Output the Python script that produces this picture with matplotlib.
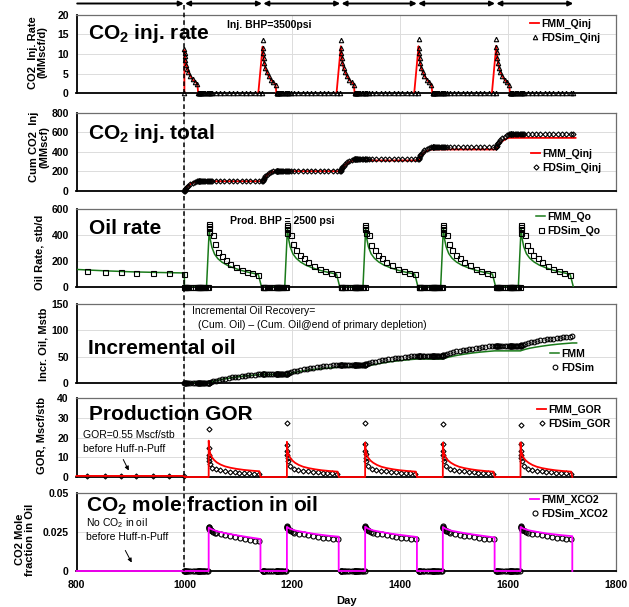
import matplotlib
matplotlib.use("Agg")
import matplotlib.pyplot as plt
from matplotlib.transforms import blended_transform_factory

plt.rcParams['font.family'] = ['Liberation Sans', 'DejaVu Sans']
plt.rcParams['mathtext.fontset'] = 'custom'
plt.rcParams['mathtext.rm'] = 'Liberation Sans'
plt.rcParams['mathtext.bf'] = 'Liberation Sans:bold'
plt.rcParams['mathtext.it'] = 'Liberation Sans:italic'

# ---------------- data ----------------
CYCLE_START = [1000, 1145, 1290, 1434, 1578]          # injection start of each huff-n-puff cycle
ARROW_DAYS = [800, 1000, 1145, 1290, 1432, 1577, 1722]  # period arrows on top

# Panel 1: CO2 injection rate (MMscf/d)
FD_INJ_T = [0, 0.3, 1, 2, 3, 5, 7.5, 11, 15.5, 20, 24]
FD_INJ_Q = [
    [11.2, 10.3, 9.4, 8.4, 7.3, 6.2, 5.3, 4.4, 3.5, 2.9, 2.4],
    [13.6, 11.5, 10.2, 8.9, 7.6, 6.3, 5.5, 4.4, 3.4, 2.7, 2.1],
    [13.7, 11.6, 10.3, 9.0, 7.7, 6.4, 5.5, 4.4, 3.4, 2.7, 2.1],
    [13.8, 11.6, 10.3, 9.0, 7.7, 6.4, 5.5, 4.4, 3.4, 2.7, 2.1],
    [13.8, 11.7, 10.4, 9.1, 7.7, 6.4, 5.5, 4.4, 3.4, 2.7, 2.1]]
FD_NOINJ_T = [26, 26.5, 27, 27.5, 28, 29, 30.5, 32, 34, 36, 38.5, 41, 44, 45.5, 47, 49, 52,
              58, 66, 74, 82, 90, 98, 106, 114, 122, 130, 138, 143]
FMM_INJ_T = [0, 1, 2, 3, 5, 7.5, 11, 15.5, 20, 24, 25.5]
FMM_INJ_Q = [
    [11.0, 9.6, 8.7, 7.7, 6.5, 5.4, 4.4, 3.4, 2.8, 2.4, 0],
    [11.9, 10.2, 9.0, 7.8, 6.4, 5.5, 4.4, 3.4, 2.7, 2.2, 0],
    [12.0, 10.3, 9.0, 7.8, 6.4, 5.5, 4.4, 3.4, 2.7, 2.2, 0],
    [12.0, 10.3, 9.0, 7.8, 6.4, 5.5, 4.4, 3.4, 2.7, 2.2, 0],
    [12.1, 10.3, 9.1, 7.9, 6.5, 5.5, 4.4, 3.4, 2.7, 2.2, 0]]
FMM_INJ_RAMP = [0, -8, -8, -8, -8]

# Panel 2: cumulative CO2 injected (MMscf)
FD_CUM = [
    [0, 3, 10, 19, 27, 41, 55, 71, 86, 97, 104],
    [104, 108, 116, 126, 135, 150, 165, 180, 194, 203, 208],
    [208, 212, 221, 233, 243, 260, 277, 294, 309, 322, 330],
    [330, 334, 343, 355, 365, 382, 399, 416, 431, 444, 451],
    [451, 455, 464, 477, 488, 506, 524, 542, 558, 572, 581]]
FD_CUM_FLAT = [104, 208, 330, 451, 581]
FMM_CUM = [
    [0, 10, 19, 27, 41, 55, 71, 85, 95, 100, 100],
    [100, 111, 121, 130, 144, 160, 177, 191, 199, 203, 203],
    [203, 214, 225, 234, 249, 266, 284, 299, 308, 313, 313],
    [313, 324, 336, 345, 361, 378, 396, 411, 421, 426, 426],
    [426, 437, 449, 458, 474, 491, 510, 526, 539, 545, 545]]
FMM_CUM_END_DAY = 1725

# Panel 3: oil rate (stb/d)
FMM_PRIM_T = [800, 850, 900, 950, 1000]
FMM_PRIM_Q = [135, 125, 117, 112, 108]
FD_PRIM_T = [820, 852, 882, 911, 941, 971, 1000]
FD_PRIM_Q = [121, 116, 113, 110, 107, 104, 101]
FD_SHUT_T = [0, 0.5, 1, 2, 3, 5, 7.5, 11, 15.5, 20, 24, 25.5, 26, 26.5, 27, 28, 29, 30.5,
             32, 34, 36, 38.5, 41, 44]
FD_PROD_T = [45, 45.3, 45.6, 46, 53, 56.5, 62.5, 69, 77, 84, 95.5, 106, 116.5, 126, 137]
FD_OIL = [
    [485, 466, 454, 425, 400, 330, 272, 236, 206, 180, 153, 134, 117, 106, 96],
    [480, 462, 450, 418, 402, 328, 284, 248, 220, 195, 165, 141, 121, 108, 97],
    [478, 460, 448, 415, 400, 326, 285, 248, 221, 196, 166, 142, 122, 109, 97],
    [478, 461, 447, 416, 401, 327, 285, 249, 221, 196, 166, 142, 122, 109, 97],
    [476, 458, 446, 414, 398, 325, 284, 247, 220, 195, 165, 141, 121, 108, 96]]
FMM_OIL_T = [41, 46, 48, 51, 56, 62, 70, 80, 92, 105, 120, 137, 143]
FMM_OIL = [
    [0, 440, 365, 305, 252, 218, 190, 166, 146, 128, 112, 97, 0],
    [0, 452, 372, 310, 256, 222, 193, 168, 148, 130, 114, 99, 0],
    [0, 452, 372, 310, 256, 222, 193, 168, 148, 130, 114, 99, 0],
    [0, 453, 373, 311, 257, 222, 193, 168, 148, 130, 114, 99, 0],
    [0, 452, 372, 310, 256, 222, 193, 168, 148, 130, 114, 98, 0]]

# Panel 4: incremental oil (Mstb)
FD_INC_SHUT = [0, 17.6, 35.0, 52.0, 71.0]
FD_INC_PROD_T = [45, 45.3, 45.6, 46, 49, 53, 58, 64, 70, 76, 82, 88, 94, 100, 106, 112, 118,
                 124, 130, 136, 141]
FD_INC = [
    [0, 0.14, 0.28, 0.46, 1.7, 3.1, 4.6, 6.0, 7.3, 8.5, 9.5, 10.5, 11.4, 12.3, 13.1, 13.9, 14.7,
     15.4, 16.1, 16.8, 17.4],
    [17.6, 17.7, 17.9, 18.1, 19.3, 20.7, 22.1, 23.5, 24.8, 26.0, 27.0, 28.0, 28.9, 29.8, 30.6,
     31.4, 32.1, 32.8, 33.5, 34.2, 34.8],
    [35.0, 35.1, 35.3, 35.4, 36.6, 38.0, 39.4, 40.8, 42.1, 43.2, 44.2, 45.2, 46.0, 46.9, 47.7,
     48.4, 49.2, 49.9, 50.6, 51.2, 51.8],
    [52.0, 52.2, 52.3, 52.5, 53.8, 55.3, 57.0, 58.5, 59.9, 61.2, 62.3, 63.3, 64.3, 65.3, 66.1,
     67.0, 67.9, 68.6, 69.4, 70.1, 70.8],
    [71.0, 71.1, 71.3, 71.5, 72.8, 74.2, 75.7, 77.1, 78.5, 79.7, 80.7, 81.8, 82.7, 83.6, 84.4,
     85.2, 86.0, 86.8, 87.5, 88.2, 88.8]]
FMM_INC_T = [45, 47, 50, 55, 62, 72, 85, 100, 115, 130, 141]
FMM_INC = [
    [0, 0.8, 1.9, 3.5, 5.3, 7.4, 9.6, 11.8, 13.6, 15.0, 16.0],
    [16.0, 16.7, 17.7, 19.1, 20.6, 22.4, 24.4, 26.4, 27.9, 29.2, 30.0],
    [30.0, 30.8, 31.9, 33.4, 35.1, 37.1, 39.3, 41.5, 43.2, 44.6, 45.5],
    [45.5, 46.3, 47.4, 48.9, 50.6, 52.6, 54.8, 57.0, 58.7, 60.1, 61.0],
    [61.0, 61.8, 62.8, 64.3, 66.0, 67.9, 70.0, 72.1, 73.8, 75.1, 76.0]]
FMM_INC_END_DAY = 1727

# Panel 5: producing GOR (Mscf/stb)
GOR_PRIMARY = 0.55
FD_GOR_PRIM = [0.55, 0.55, 0.55, 0.55, 0.55, 0.55, 0.55]
FD_GOR_T = [45, 45.3, 45.6, 46, 46.5, 47.5, 51, 58, 66, 75, 84, 93, 102, 111, 120, 129, 138]
FD_GOR = [
    [24.5, 14.5, 11.2, 9.6, 8.2, 6.6, 4.6, 3.8, 3.4, 3.0, 2.7, 2.4, 2.2, 2.0, 1.9, 1.7, 1.6],
    [27.3, 16.4, 13.0, 11.3, 9.6, 8.2, 5.6, 4.3, 3.6, 3.1, 2.8, 2.5, 2.3, 2.1, 1.9, 1.8, 1.6],
    [27.3, 16.8, 13.2, 11.4, 9.7, 8.2, 5.6, 4.3, 3.6, 3.1, 2.8, 2.5, 2.3, 2.1, 1.9, 1.8, 1.6],
    [26.8, 16.5, 13.0, 11.2, 9.6, 8.1, 5.5, 4.3, 3.6, 3.1, 2.8, 2.5, 2.3, 2.1, 1.9, 1.8, 1.6],
    [26.1, 16.6, 13.1, 11.3, 9.6, 8.1, 5.5, 4.3, 3.6, 3.1, 2.8, 2.5, 2.3, 2.1, 1.9, 1.8, 1.6]]
FMM_GOR_T = [45, 45.05, 46, 48, 51, 55, 60, 67, 75, 85, 97, 110, 125, 139, 141]
FMM_GOR = [
    [0, 18.4, 14.5, 11.8, 10.0, 8.6, 7.4, 6.3, 5.4, 4.7, 4.1, 3.6, 3.2, 2.9, 0],
    [0, 17.8, 13.9, 11.4, 9.7, 8.4, 7.2, 6.1, 5.2, 4.5, 3.9, 3.4, 3.0, 2.7, 0],
    [0, 17.4, 13.8, 11.3, 9.6, 8.3, 7.2, 6.1, 5.2, 4.5, 3.9, 3.4, 3.0, 2.7, 0],
    [0, 17.4, 13.8, 11.3, 9.6, 8.3, 7.2, 6.1, 5.2, 4.5, 3.9, 3.4, 3.0, 2.7, 0],
    [0, 17.5, 13.8, 11.3, 9.6, 8.3, 7.2, 6.1, 5.2, 4.5, 3.9, 3.4, 3.0, 2.7, 0]]

# Panel 6: CO2 mole fraction in oil
FD_X_T = [45, 45.3, 45.6, 46, 47, 48.5, 50.5, 53, 56, 59, 67, 76, 85, 94, 103, 112, 121, 130, 139]
FD_X = [
    [0.0285, 0.0280, 0.0275, 0.0270, 0.0265, 0.0260, 0.0255, 0.0250, 0.0246, 0.0243, 0.0236,
     0.0229, 0.0222, 0.0216, 0.0210, 0.0204, 0.0199, 0.0194, 0.0190],
    [0.0287, 0.0283, 0.0279, 0.0275, 0.0270, 0.0265, 0.0260, 0.0255, 0.0250, 0.0246, 0.0240,
     0.0234, 0.0228, 0.0223, 0.0218, 0.0213, 0.0209, 0.0206, 0.0203],
    [0.0287, 0.0283, 0.0279, 0.0275, 0.0270, 0.0265, 0.0260, 0.0255, 0.0250, 0.0246, 0.0240,
     0.0234, 0.0228, 0.0223, 0.0218, 0.0213, 0.0209, 0.0206, 0.0203],
    [0.0286, 0.0282, 0.0278, 0.0274, 0.0269, 0.0264, 0.0259, 0.0254, 0.0249, 0.0245, 0.0239,
     0.0233, 0.0227, 0.0222, 0.0217, 0.0212, 0.0208, 0.0205, 0.0202],
    [0.0287, 0.0283, 0.0279, 0.0275, 0.0270, 0.0265, 0.0260, 0.0255, 0.0250, 0.0246, 0.0240,
     0.0234, 0.0228, 0.0223, 0.0218, 0.0213, 0.0209, 0.0206, 0.0203]]
FMM_X_T = [45, 45.01, 50, 60, 75, 95, 120, 141, 141.01]
FMM_X = [
    [0, 0.0278, 0.0268, 0.0255, 0.0243, 0.0230, 0.0216, 0.0205, 0],
    [0, 0.0282, 0.0272, 0.0260, 0.0250, 0.0238, 0.0227, 0.0220, 0],
    [0, 0.0283, 0.0272, 0.0260, 0.0250, 0.0238, 0.0227, 0.0218, 0],
    [0, 0.0282, 0.0271, 0.0259, 0.0249, 0.0237, 0.0225, 0.0215, 0],
    [0, 0.0282, 0.0272, 0.0261, 0.0251, 0.0240, 0.0230, 0.0223, 0]]


# ---------------- helpers ----------------
def series(rel_t, vals_by_cycle):
    t, v = [], []
    for s, vals in zip(CYCLE_START, vals_by_cycle):
        t.extend(s + r for r in rel_t)
        v.extend(vals)
    return t, v


def const_series(rel_t, levels):
    t, v = [], []
    for s, lv in zip(CYCLE_START, levels):
        t.extend(s + r for r in rel_t)
        v.extend([lv] * len(rel_t))
    return t, v


W, H = 629, 607
fig = plt.figure(figsize=(W / 100, H / 100), dpi=100)


def fx(px):
    return px / W


def fy(py):
    return 1 - py / H


AX_L, AX_R = 76.5, 616
PANELS = [(15, 93), (113, 191), (209, 287), (304, 383), (398, 477), (493, 571)]
YLIMS = [(0, 20), (0, 800), (0, 600), (0, 150), (0, 40), (0, 0.05)]
YTICKS = [[0, 5, 10, 15, 20], [0, 200, 400, 600, 800], [0, 200, 400, 600],
          [0, 50, 100, 150], [0, 10, 20, 30, 40], [0, 0.025, 0.05]]
YTICKLABELS = [None, None, None, None, None, ['0', '0.025', '0.05']]

axes = []
for (top, bot), yl, yt, ytl in zip(PANELS, YLIMS, YTICKS, YTICKLABELS):
    ax = fig.add_axes([fx(AX_L), fy(bot), (AX_R - AX_L) / W, (bot - top) / H])
    ax.set_xlim(800, 1800)
    ax.set_ylim(*yl)
    ax.set_yticks(yt)
    if ytl is not None:
        ax.set_yticklabels(ytl)
    ax.set_xticks([800, 1000, 1200, 1400, 1600, 1800])
    ax.grid(True, color='#dcdcdc', lw=0.7)
    ax.set_axisbelow(True)
    ax.tick_params(axis='y', length=0, pad=5.5, labelsize=7.5)
    ax.tick_params(axis='x', length=0, pad=6.5, labelsize=7.5)
    for lab in ax.get_yticklabels() + ax.get_xticklabels():
        lab.set_fontweight('bold')
    for sp in ['left', 'bottom']:
        ax.spines[sp].set_color('black')
        ax.spines[sp].set_linewidth(1.3)
    for sp in ['top', 'right']:
        ax.spines[sp].set_color('#6e6e6e')
        ax.spines[sp].set_linewidth(0.9)
    axes.append(ax)

for ax in axes[:-1]:
    ax.set_xticklabels([])

MK = dict(linestyle='none', mfc='none', mec='black', mew=0.8)

# Panel 1
ax = axes[0]
for k, s in enumerate(CYCLE_START):
    t = [s + FMM_INJ_RAMP[k]] + [s + r for r in FMM_INJ_T]
    v = [0] + FMM_INJ_Q[k]
    ax.plot(t, v, color='red', lw=1.3, label='FMM_Qinj' if k == 0 else None, zorder=3)
t1, v1 = series(FD_INJ_T, FD_INJ_Q)
t2, v2 = const_series(FD_NOINJ_T, [0, 0, 0, 0, 0])
ax.plot([CYCLE_START[0]] + t1 + t2, [0] + v1 + v2, marker='^', ms=3.2, label='FDSim_Qinj',
        zorder=4, clip_on=False, **MK)

# Panel 2
ax = axes[1]
t, v = [], []
for s, vals in zip(CYCLE_START, FMM_CUM):
    t.extend(s + r for r in FMM_INJ_T)
    v.extend(vals)
t.append(FMM_CUM_END_DAY)
v.append(FMM_CUM[-1][-1])
ax.plot(t, v, color='red', lw=1.3, label='FMM_Qinj', zorder=3)
t1, v1 = series(FD_INJ_T, FD_CUM)
t2, v2 = const_series(FD_NOINJ_T, FD_CUM_FLAT)
ax.plot(t1 + t2, v1 + v2, marker='D', ms=2.6, label='FDSim_Qinj', zorder=4, clip_on=False, **MK)

# Panel 3
ax = axes[2]
t = list(FMM_PRIM_T) + [1000]
v = list(FMM_PRIM_Q) + [0]
for s, vals in zip(CYCLE_START, FMM_OIL):
    t.extend(s + r for r in FMM_OIL_T)
    v.extend(vals)
ax.plot(t, v, color='#1a7a1a', lw=1.1, label='FMM_Qo', zorder=3)
t1, v1 = const_series(FD_SHUT_T, [0, 0, 0, 0, 0])
t2, v2 = series(FD_PROD_T, FD_OIL)
ax.plot(FD_PRIM_T + t1 + t2, FD_PRIM_Q + v1 + v2, marker='s', ms=3.6, label='FDSim_Qo',
        zorder=4, clip_on=False, **MK)

# Panel 4
ax = axes[3]
t, v = [CYCLE_START[0]], [0]
for s, vals in zip(CYCLE_START, FMM_INC):
    t.extend(s + r for r in FMM_INC_T)
    v.extend(vals)
t.append(FMM_INC_END_DAY)
v.append(FMM_INC[-1][-1])
ax.plot(t, v, color='#1a7a1a', lw=1.1, label='FMM', zorder=3)
t1, v1 = const_series(FD_SHUT_T, FD_INC_SHUT)
t2, v2 = series(FD_INC_PROD_T, FD_INC)
ax.plot(t1 + t2, v1 + v2, marker='o', ms=3.4, label='FDSim', zorder=4, clip_on=False, **MK)

# Panel 5
ax = axes[4]
t = [800, 1000, 1000]
v = [GOR_PRIMARY, GOR_PRIMARY, 0]
for s, vals in zip(CYCLE_START, FMM_GOR):
    t.extend(s + r for r in FMM_GOR_T)
    v.extend(vals)
ax.plot(t, v, color='red', lw=1.3, label='FMM_GOR', zorder=5, clip_on=False)
t2, v2 = series(FD_GOR_T, FD_GOR)
ax.plot(FD_PRIM_T + t2, FD_GOR_PRIM + v2, marker='D', ms=2.6, label='FDSim_GOR', zorder=4,
        clip_on=False, **MK)

# Panel 6
ax = axes[5]
t, v = [800], [0]
for s, vals in zip(CYCLE_START, FMM_X):
    t.extend(s + r for r in FMM_X_T)
    v.extend(vals)
ax.plot(t, v, color='#ff00ff', lw=1.3, label='FMM_XCO2', zorder=5, clip_on=False)
t1, v1 = const_series(FD_SHUT_T, [0, 0, 0, 0, 0])
t2, v2 = series(FD_X_T, FD_X)
ax.plot(t1 + t2, v1 + v2, marker='o', ms=3.6, label='FDSim_XCO2', zorder=4, clip_on=False, **MK)

# x label
axes[-1].set_xlabel('Day', fontsize=8, fontweight='bold', labelpad=4)

# y labels (figure text, rotated)
YLABELS = ['CO2  Inj. Rate\n(MMscf/d)', 'Cum CO2  Inj\n(MMscf)', 'Oil Rate, stb/d',
           'Incr. Oil, Mstb', 'GOR, Mscf/stb', 'CO2 Mole\nfraction in Oil']
YLAB_POS = [(37.5, 52.5), (39.5, 147), (39, 252), (44, 344.5), (41, 436), (25, 539.5)]
for lab, (px, py) in zip(YLABELS, YLAB_POS):
    fig.text(fx(px), fy(py), lab, rotation=90, ha='center', va='center', rotation_mode='anchor',
             fontsize=8, fontweight='bold', linespacing=1.0)

# panel titles
TITLES = [r'CO$_\mathbf{2}$ inj. rate', r'CO$_\mathbf{2}$ inj. total', 'Oil rate',
          'Incremental oil', 'Production GOR', r'CO$_\mathbf{2}$ mole fraction in oil']
TITLE_POS = [(88, 39), (88, 139), (89, 234), (88, 354), (89, 420), (86, 512)]
for ttl, (px, py) in zip(TITLES, TITLE_POS):
    fig.text(fx(px), fy(py), ttl, ha='left', va='baseline', fontsize=15, fontweight='bold',
             zorder=10)

# annotations
fig.text(fx(227), fy(28), 'Inj. BHP=3500psi', fontsize=7.5, fontweight='bold', va='baseline')
fig.text(fx(230), fy(224.5), 'Prod. BHP = 2500 psi', fontsize=7.5, fontweight='bold',
         va='baseline')
fig.text(fx(192), fy(314.5), 'Incremental Oil Recovery=', fontsize=7.5, va='baseline')
fig.text(fx(198), fy(328.5), '(Cum. Oil) \u2013 (Cum. Oil@end of primary depletion)',
         fontsize=7.5, va='baseline')
fig.text(fx(83), fy(437.5), 'GOR=0.55 Mscf/stb', fontsize=7.5, va='baseline')
fig.text(fx(83), fy(451.5), 'before Huff-n-Puff', fontsize=7.5, va='baseline')
fig.text(fx(86), fy(526.5), r'No CO$_\mathrm{2}$ in oil', fontsize=7.5, va='baseline')
fig.text(fx(86), fy(540.5), 'before Huff-n-Puff', fontsize=7.5, va='baseline')
for (x0, y0, x1, y1) in [(122, 457, 130, 473), (124, 548, 133, 565)]:
    fig.add_artist(matplotlib.patches.FancyArrowPatch(
        (fx(x0), fy(y0)), (fx(x1), fy(y1)), transform=fig.transFigure,
        arrowstyle='-|>', mutation_scale=6, lw=0.7, color='black'))

# legends
LEG_POS = [(530, 19), (531, 149), (536, 212), (550, 349), (537, 405), (530, 495)]
LEG_LOC = ['upper left'] * 6
for ax, (px, py) in zip(axes, LEG_POS):
    fig.legend(*ax.get_legend_handles_labels(), loc='upper left',
               bbox_to_anchor=(fx(px), fy(py)), bbox_transform=fig.transFigure,
               frameon=False, prop={'weight': 'bold', 'size': 7.5}, handlelength=0.9,
               handletextpad=0.15, labelspacing=0.35, borderpad=0, borderaxespad=0,
               numpoints=1, markerscale=1.0)

# vertical dashed line at day 1000 through all panels
trans = blended_transform_factory(axes[0].transData, fig.transFigure)
fig.add_artist(matplotlib.lines.Line2D([1000, 1000], [fy(5), fy(571)], transform=trans,
                                       color='black', lw=1.1, dashes=(3, 2), zorder=20))

# top period arrows
for i in range(len(ARROW_DAYS) - 1):
    style = '-|>' if i == 0 else '<|-|>'
    fig.add_artist(matplotlib.patches.FancyArrowPatch(
        (ARROW_DAYS[i], fy(3.5)), (ARROW_DAYS[i + 1], fy(3.5)), transform=trans,
        arrowstyle=style, mutation_scale=7, lw=1.4, color='black', shrinkA=0.5, shrinkB=0.5))

fig.savefig('out.png', dpi=100)
